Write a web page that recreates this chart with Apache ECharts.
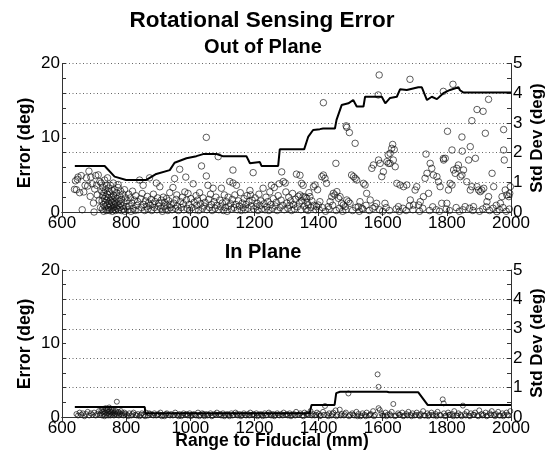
<!DOCTYPE html>
<html><head><meta charset="utf-8">
<script src="https://cdn.jsdelivr.net/npm/echarts@6/dist/echarts.min.js"></script>
<style>html,body{margin:0;padding:0;background:#fff}#c{width:550px;height:462px}</style>
</head><body><div id="c"></div>
<script>
// ---------- DATA ----------
const xTicks = [600, 800, 1000, 1200, 1400, 1600, 1800, 2000];
const errTicks = [0, 10, 20];
const stdTicks = [0, 1, 2, 3, 4, 5];

// Out of plane: error (deg) scatter [range mm, error deg]
const outPlaneErr = [
[639,3.05],[642,4.2],[645,3.0],[648,4.4],[650,4.7],[655,2.6],[660,4.9],[663,0.3],[668,2.7],[672,3.6],[676,4.6],[680,3.5],[684,5.5],[688,2.1],[690,4.7],[694,3.8],[698,1.2],[700,0.0],[702,3.1],[705,4.9],[708,3.6],[710,2.3],[713,5.0],[716,1.6],[718,4.1],[720,0.6],
[722,3.9],[724,2.8],[725,1.5],[726,0.4],[727,2.2],[728,3.3],[729,1.0],[730,0.1],[731,2.6],[732,1.8],[733,4.3],[734,0.7],[735,3.0],[736,1.3],[737,2.1],[738,0.2],[739,3.6],[740,1.6],[741,0.9],[742,2.4],[742,4.6],[743,0.3],[744,1.9],[745,3.2],[746,0.6],[747,1.1],[748,2.7],[749,0.2],[750,1.5],[751,3.6],[752,0.8],[753,2.0],[754,0.4],[755,1.3],[756,2.9],[757,0.1],[758,1.7],[759,0.6],[760,2.3],[760,3.9],[761,1.0],[762,0.3],[763,3.0],[764,1.4],[765,0.7],[766,2.0],[767,0.2],[768,1.2],[770,2.6],[771,0.5],[772,1.8],[774,0.9],[775,3.3],[775,3.7],[776,0.3],[778,1.5],[779,2.2],[780,0.6],[782,1.1],[783,2.8],[785,0.2],[786,1.7],[788,0.8],[790,2.4],[791,0.4],[793,1.3],[795,3.0],[796,0.1],[798,1.9],[800,0.7],
[803,1.5],[806,0.3],[808,2.4],[810,0.8],[813,1.9],[815,0.1],[818,1.2],[820,2.8],[822,0.5],[825,1.6],[828,0.2],[830,2.2],[833,0.9],[836,1.4],[838,0.3],[842,4.3],[845,1.8],[848,0.6],[850,2.5],[853,3.6],[855,1.0],[858,0.2],[860,1.5],[863,0.7],[866,2.1],[868,0.4],[870,1.2],[873,4.6],[875,0.9],[878,1.7],[880,0.2],[883,1.1],[885,2.4],[888,0.6],[890,1.4],[894,3.9],[896,0.3],[898,1.9],[900,0.8],[903,1.2],[905,3.4],[908,0.5],[910,1.6],[913,0.1],[916,2.0],[918,0.7],[920,1.3],[923,0.4],[926,1.8],[928,0.9],[930,0.2],[933,1.5],[936,2.6],[938,0.6],[940,1.0],[943,0.3],[946,3.3],[948,1.2],[951,4.5],[953,0.5],[956,1.7],[958,2.3],[960,0.8],[963,0.2],[967,5.75],[969,1.4],[972,0.6],[975,2.0],[978,1.1],[980,0.3],[983,2.7],[986,4.7],[988,1.6],[990,0.5],[993,2.5],[996,1.0],[998,0.2],
[1002,1.8],[1005,0.6],[1009,3.8],[1012,1.3],[1015,0.3],[1018,2.2],[1020,0.9],[1023,1.6],[1026,0.2],[1029,2.6],[1032,1.1],[1035,6.2],[1038,0.5],[1040,1.9],[1043,0.8],[1046,1.3],[1050,10.05],[1050,4.85],[1052,0.3],[1055,3.6],[1058,1.7],[1060,0.6],[1063,2.4],[1066,1.0],[1068,0.2],[1071,3.2],[1074,1.4],[1077,0.5],[1080,2.0],[1083,0.9],[1087,7.45],[1089,0.3],[1092,1.6],[1095,0.7],[1097,3.2],[1100,1.2],[1103,0.2],[1106,2.3],[1109,0.6],[1112,1.4],[1115,0.1],[1118,2.0],[1120,0.8],[1123,4.1],[1126,1.1],[1128,0.4],[1131,1.7],[1133,3.9],[1133,5.65],[1136,0.6],[1139,2.3],[1142,1.0],[1144,3.6],[1147,0.3],[1150,1.5],[1153,0.8],[1156,2.6],[1159,0.2],[1162,1.2],[1165,0.6],[1168,1.8],[1171,0.3],[1174,1.0],[1177,2.2],[1180,0.5],[1183,1.4],[1186,2.9],[1188,2.3],[1190,0.8],[1193,1.6],[1196,5.3],[1198,0.4],
[1202,1.9],[1205,0.7],[1208,1.2],[1211,0.2],[1214,2.4],[1217,0.9],[1220,1.5],[1223,0.4],[1227,3.2],[1230,1.1],[1233,0.3],[1236,2.0],[1239,0.7],[1242,1.4],[1245,0.2],[1248,2.7],[1251,1.0],[1253,3.6],[1256,0.5],[1259,1.8],[1262,3.3],[1265,0.8],[1268,1.3],[1271,0.2],[1274,2.2],[1277,3.8],[1280,0.6],[1283,1.6],[1285,5.4],[1288,0.9],[1290,4.1],[1293,0.3],[1296,3.9],[1298,2.7],[1301,1.2],[1304,0.5],[1307,2.0],[1310,0.9],[1313,1.5],[1316,0.2],[1319,2.5],[1322,1.0],[1325,0.4],[1328,1.7],[1331,5.1],[1334,0.7],[1337,2.1],[1340,1.2],[1342,4.95],[1342,2.3],[1345,0.3],[1347,3.86],[1348,1.5],[1352,3.6],[1352,2.07],[1355,0.8],[1358,2.0],[1361,0.4],[1363,1.84],[1364,1.3],[1367,0.2],[1368,0.94],[1370,2.6],[1373,2.07],[1376,0.6],[1379,1.5],[1384,3.41],[1385,0.9],[1389,3.64],[1391,0.3],[1394,0.72],[1397,3.0],[1399,0.94],
[1402,0.3],[1404,1.39],[1410,4.76],[1412,0.6],[1415,4.98],[1415,14.72],[1420,4.54],[1422,0.1],[1425,3.86],[1430,0.72],[1433,0.4],[1436,1.39],[1441,2.07],[1444,0.9],[1446,2.51],[1451,2.29],[1454,6.55],[1455,0.2],[1457,2.74],[1462,1.84],[1465,0.5],[1467,2.07],[1472,1.17],[1475,0.1],[1477,0.94],[1483,0.72],[1485,0.3],[1486,11.6],[1488,11.4],[1488,1.62],[1493,1.39],[1496,10.7],[1498,1.17],[1503,4.98],[1506,0.2],[1509,4.76],[1514,4.54],[1514,9.25],[1516,0.6],[1519,4.31],[1524,0.72],[1527,0.1],[1529,1.39],[1535,0.49],[1538,0.4],[1540,3.86],[1545,3.64],[1548,0.9],[1550,2.51],[1558,0.2],[1561,1.62],[1566,5.88],[1569,0.5],[1571,6.33],[1576,0.72],[1581,1.17],[1586,15.76],[1587,7.0],[1589,18.45],[1590,0.3],[1592,6.55],[1597,4.76],[1600,0.1],[1602,5.43],[1607,1.17],[1611,0.6],[1613,6.78],[1617,7.7],[1618,6.55],[1621,0.2],[1623,7.9],[1623,6.55],[1628,8.57],[1631,9.1],[1633,7.0],[1636,8.4],[1639,6.1],[1642,0.4],[1644,3.86],[1649,0.72],[1652,0.1],[1654,3.64],[1663,0.5],[1665,3.41],[1673,0.2],[1675,3.64],[1683,0.8],[1685,17.87],[1686,1.62],[1694,0.3],[1696,0.94],[1701,2.96],[1706,3.41],[1712,0.94],[1715,0.1],[1717,1.39],[1725,0.5],[1727,2.07],[1732,4.54],[1735,7.8],[1738,5.21],[1743,2.51],[1746,0.2],[1748,6.55],[1753,5.88],[1756,0.7],[1758,4.98],[1767,0.3],[1769,4.76],[1774,4.08],[1777,0.1],[1779,3.41],[1784,1.17],[1789,16.25],[1789,7.2],[1790,7.0],[1795,7.23],[1798,0.4],[1800,1.17],[1802,10.87],[1805,2.96],[1808,0.2],[1810,3.86],[1816,3.64],[1816,8.35],[1819,17.2],[1821,5.66],[1826,5.21],[1829,0.6],[1831,5.88],[1836,6.33],[1839,0.1],[1842,4.76],[1847,4.98],[1847,10.1],[1848,8.2],[1850,0.3],[1852,5.66],[1857,0.72],[1862,4.08],[1868,7.0],[1871,0.5],[1873,2.96],[1873,8.8],[1878,3.41],[1878,12.3],[1881,0.2],[1883,0.72],[1889,7.23],[1894,3.41],[1894,13.8],[1899,2.96],[1902,0.1],[1904,2.74],[1909,2.96],[1912,0.4],[1913,13.56],[1915,3.19],[1920,10.6],[1923,0.7],[1925,1.39],[1930,2.07],[1930,15.17],[1933,0.2],[1941,5.21],[1944,0.5],[1946,3.41],[1954,0.9],[1956,0.05],[1964,0.3],[1967,1.17],[1972,2.07],[1975,0.6],[1977,8.35],[1977,11.1],[1979,7.0],[1982,2.96],[1985,0.1],[1987,2.29],[1993,2.07],[1995,0.4],[1996,2.51],[1998,3.41]
];

// Out of plane: running std dev (deg) [range mm, std deg]
const outPlaneStd = [
[640,1.55],[733,1.55],[764,1.19],[800,1.08],[863,1.08],[880,1.19],[894,1.28],[936,1.41],[951,1.66],[988,1.81],[1019,1.88],[1040,1.95],[1082,1.95],[1101,1.88],[1175,1.88],[1186,1.64],[1217,1.68],[1222,1.55],[1274,1.55],[1279,2.11],[1355,2.11],[1368,2.54],[1383,2.76],[1404,2.79],[1414,2.81],[1451,2.81],[1456,3.1],[1472,3.6],[1493,3.66],[1508,3.77],[1519,3.55],[1540,3.55],[1545,3.88],[1597,3.88],[1608,3.66],[1623,3.84],[1644,3.88],[1654,4.13],[1675,4.11],[1711,4.2],[1722,4.2],[1738,3.77],[1753,3.88],[1769,3.8],[1789,4.0],[1810,4.11],[1836,4.2],[1841,4.1],[1852,4.02],[2000,4.02]
];

// In plane: error (deg) scatter
const inPlaneErr = [
[645,0.4],[650,0.2],[655,0.6],[660,0.3],[665,0.5],[670,0.1],[675,0.4],[680,0.7],[685,0.2],[690,0.5],[695,0.3],[700,0.6],[705,0.2],[710,0.4],[715,0.8],[718,0.3],
[721,0.5],[723,0.9],[725,0.2],[727,0.7],[729,1.1],[730,0.4],[732,0.8],[733,0.1],[735,0.6],[736,1.2],[738,0.3],[739,0.9],[741,0.5],[742,1.0],[744,0.2],[745,0.7],[747,1.3],[748,0.4],[750,0.8],[751,0.2],[753,0.6],[754,1.0],[756,0.3],[757,0.7],[759,0.5],[760,0.9],[762,0.2],[764,0.6],[766,0.4],[768,0.8],[770,0.3],[771,2.08],[773,0.5],[775,0.7],[777,0.2],[779,0.6],[781,0.4],[784,0.8],[786,0.3],[789,0.5],[792,0.2],[795,0.6],[798,0.4],
[803,0.3],[810,0.5],[816,0.2],[823,0.6],[829,0.3],[836,0.4],[842,0.1],[849,0.5],[855,0.3],[862,0.6],[868,0.2],[875,0.4],[881,0.3],[888,0.5],[894,0.2],[901,0.4],[907,0.6],[914,0.3],[920,0.1],[927,0.5],[933,0.3],[940,0.4],[946,0.2],[953,0.6],[959,0.3],[966,0.4],[972,0.1],[979,0.5],[985,0.3],[992,0.2],[998,0.5],[1005,0.3],[1011,0.4],[1018,0.2],[1024,0.6],[1031,0.3],[1037,0.5],[1044,0.1],[1050,0.4],[1057,0.3],[1063,0.5],[1070,0.2],[1076,0.4],[1083,0.6],[1089,0.3],[1096,0.2],[1102,0.5],[1109,0.3],[1115,0.4],[1122,0.1],[1128,0.5],[1135,0.3],[1141,0.6],[1148,0.2],[1154,0.4],[1161,0.3],[1167,0.5],[1174,0.2],[1180,0.4],[1187,0.6],[1193,0.3],[1200,0.2],[1206,0.5],[1213,0.3],[1219,0.4],[1226,0.1],[1232,0.5],[1239,0.3],[1245,0.6],[1252,0.2],[1258,0.4],[1265,0.3],[1271,0.5],[1278,0.2],[1284,0.4],[1291,0.6],[1297,0.3],[1304,0.2],[1310,0.5],[1317,0.3],[1323,0.4],[1330,0.7],[1336,0.3],[1343,0.5],[1349,0.2],[1356,0.6],[1362,0.4],[1369,0.3],[1375,0.8],[1382,0.4],[1388,0.2],[1395,0.6],
[806,0.1],[820,0.4],[833,0.2],[846,0.3],[859,0.1],[872,0.5],[885,0.2],[898,0.3],[911,0.1],[924,0.4],[937,0.2],[950,0.3],[963,0.1],[976,0.3],[989,0.4],[1002,0.1],[1015,0.3],[1028,0.1],[1041,0.4],[1054,0.2],[1067,0.1],[1080,0.3],[1093,0.4],[1106,0.1],[1119,0.3],[1132,0.2],[1145,0.4],[1158,0.1],[1171,0.3],[1184,0.2],[1197,0.4],[1210,0.1],[1223,0.3],[1236,0.2],[1249,0.4],[1262,0.1],[1275,0.3],[1288,0.2],[1301,0.4],[1314,0.1],[1327,0.2],[1340,0.3],[1353,0.1],[1366,0.4],[1379,0.2],[1392,0.3],
[1401,0.4],[1407,0.2],[1414,0.7],[1420,1.5],[1427,0.3],[1433,0.5],[1440,0.2],[1446,0.6],[1453,0.9],[1459,0.3],[1466,1.0],[1472,0.4],[1479,0.2],[1485,0.6],[1493,3.2],[1498,0.3],[1505,0.5],[1511,0.2],[1518,0.7],[1524,0.4],[1531,0.1],[1537,0.5],[1544,0.3],[1550,0.6],[1557,0.2],[1563,0.4],[1570,0.8],[1576,0.3],[1584,5.8],[1587,4.1],[1587,1.2],[1591,0.95],[1596,0.5],[1602,0.2],[1609,0.6],[1615,0.3],[1622,0.4],[1628,0.7],[1633,1.77],[1641,0.2],[1648,0.5],[1654,0.3],[1661,0.6],[1667,0.2],[1674,0.4],[1680,0.7],[1687,0.3],[1693,0.5],[1700,0.2],[1706,0.6],[1713,0.3],[1719,0.4],[1726,0.8],[1732,0.2],[1739,0.5],[1745,0.3],[1752,0.6],[1758,0.2],[1765,0.4],[1771,0.7],[1778,0.3],[1787,2.4],[1790,1.85],[1791,0.5],[1797,0.2],[1804,0.6],[1810,0.3],[1817,0.4],[1823,0.8],[1830,0.2],[1836,0.5],[1843,0.3],[1850,1.55],[1856,0.4],[1862,0.7],[1869,0.2],[1875,0.5],[1882,0.3],[1888,0.6],[1895,0.2],[1901,0.9],[1908,0.4],[1914,0.3],[1921,0.6],[1927,0.2],[1934,0.5],[1940,0.8],[1947,0.3],[1953,0.4],[1960,0.7],[1966,0.2],[1973,0.5],[1979,0.3],[1986,0.6],[1992,0.2],[1998,0.8],
[1404,0.1],[1417,0.3],[1430,0.1],[1443,0.4],[1456,0.1],[1469,0.2],[1482,0.4],[1495,0.1],[1508,0.3],[1521,0.1],[1534,0.2],[1547,0.1],[1560,0.3],[1573,0.1],[1599,0.2],[1612,0.1],[1625,0.2],[1638,0.1],[1651,0.3],[1664,0.1],[1677,0.2],[1690,0.1],[1703,0.3],[1716,0.1],[1729,0.2],[1742,0.1],[1755,0.3],[1768,0.1],[1781,0.2],[1794,0.1],[1807,0.3],[1820,0.1],[1833,0.2],[1846,0.1],[1859,0.2],[1872,0.1],[1885,0.3],[1898,0.1],[1911,0.2],[1924,0.1],[1937,0.3],[1950,0.1],[1963,0.2],[1976,0.1],[1989,0.3]
];

// In plane: running std dev (deg)
const inPlaneStd = [
[640,0.34],[858,0.34],[860,0.13],[1372,0.13],[1378,0.41],[1450,0.41],[1455,0.81],[1467,0.86],[1613,0.86],[1620,0.84],[1711,0.84],[1740,0.41],[2000,0.41]
];

// ---------- CHART ----------
const FONT = '"Liberation Sans", Arial, Helvetica, sans-serif';
const AXC = '#333';
const chart = echarts.init(document.getElementById('c'), null, {renderer: 'canvas'});

const grids = [
  {left: 62, right: 39, top: 63.5, height: 148.5},
  {left: 62, right: 39, top: 270, height: 147}
];
const plain = v => String(v);

function xAxes(gi) {
  return [
    {type: 'value', gridIndex: gi, min: xTicks[0], max: xTicks[xTicks.length-1], interval: 200, position: 'bottom',
     axisLine: {lineStyle: {color: AXC, width: 1}}, axisTick: {inside: true, length: 4, lineStyle: {color: AXC}},
     axisLabel: {color: '#000', fontFamily: FONT, fontSize: 17, margin: 3, formatter: plain, showMinLabel: true, showMaxLabel: true},
     splitLine: {show: false}},
    {type: 'value', gridIndex: gi, min: xTicks[0], max: xTicks[xTicks.length-1], interval: 200, position: 'top',
     axisLine: {lineStyle: {color: AXC, width: 1}}, axisTick: {inside: true, length: 4, lineStyle: {color: AXC}},
     axisLabel: {show: false}, splitLine: {show: false}}
  ];
}
function yAxes(gi) {
  return [
    {type: 'value', gridIndex: gi, min: 0, max: errTicks[errTicks.length-1], interval: 10, position: 'left',
     axisLine: {show: true, lineStyle: {color: AXC, width: 1}}, axisTick: {show: true, inside: true, length: 4, lineStyle: {color: AXC}},
     axisLabel: {color: '#000', fontFamily: FONT, fontSize: 17, margin: 2, formatter: plain}, splitLine: {show: false}},
    {type: 'value', gridIndex: gi, min: 0, max: stdTicks[stdTicks.length-1], interval: 1, position: 'right',
     axisLine: {show: true, lineStyle: {color: AXC, width: 1}}, axisTick: {show: true, inside: true, length: 4, lineStyle: {color: AXC}},
     minorTick: {show: true, splitNumber: 2, length: 4, lineStyle: {color: AXC}},
     axisLabel: {color: '#000', fontFamily: FONT, fontSize: 17, margin: 2, formatter: plain},
     splitLine: {show: true, lineStyle: {color: '#666', type: [1, 2.5], width: 1}}},
    {type: 'value', gridIndex: gi, min: 0, max: 5, interval: 0.5, position: 'left',
     axisLine: {show: false}, axisTick: {show: true, inside: true, length: 4, lineStyle: {color: AXC}},
     axisLabel: {show: false}, splitLine: {show: false}}
  ];
}

const scatterStyle = {color: 'rgba(0,0,0,0)', borderColor: '#111', borderWidth: 0.85};

const g = [];
function txt(x, y, text, size, bold, rot) {
  g.push({type: 'text', x: x, y: y, rotation: rot || 0, z: 100,
    style: {text: text, x: 0, y: 0, align: 'center', verticalAlign: 'middle',
      font: (bold ? 'bold ' : '') + size + 'px ' + FONT, fill: '#000'}});
}
txt(262, 21, 'Rotational Sensing Error', 22.5, true);
txt(263, 47, 'Out of Plane', 20, true);
txt(263, 252, 'In Plane', 20, true);
txt(272, 441, 'Range to Fiducial (mm)', 17.5, true);
txt(25, 143, 'Error (deg)', 17.5, true, Math.PI / 2);
txt(537, 138, 'Std Dev (deg)', 17, true, Math.PI / 2);
txt(25, 344, 'Error (deg)', 17.5, true, Math.PI / 2);
txt(537, 343, 'Std Dev (deg)', 17, true, Math.PI / 2);

chart.setOption({
  animation: false,
  backgroundColor: '#fff',
  grid: grids,
  xAxis: [...xAxes(0), ...xAxes(1)],
  yAxis: [...yAxes(0), ...yAxes(1)],
  graphic: g,
  series: [
    {type: 'scatter', xAxisIndex: 0, yAxisIndex: 0, data: outPlaneErr, symbol: 'circle', symbolSize: 6.5, itemStyle: scatterStyle, z: 2, silent: true},
    {type: 'line', xAxisIndex: 0, yAxisIndex: 1, data: outPlaneStd, showSymbol: false, lineStyle: {color: '#000', width: 2}, z: 3, silent: true},
    {type: 'scatter', xAxisIndex: 2, yAxisIndex: 3, data: inPlaneErr, symbol: 'circle', symbolSize: 5, itemStyle: scatterStyle, z: 2, silent: true},
    {type: 'line', xAxisIndex: 2, yAxisIndex: 4, data: inPlaneStd, showSymbol: false, lineStyle: {color: '#000', width: 2}, z: 3, silent: true}
  ]
});
</script></body></html>
